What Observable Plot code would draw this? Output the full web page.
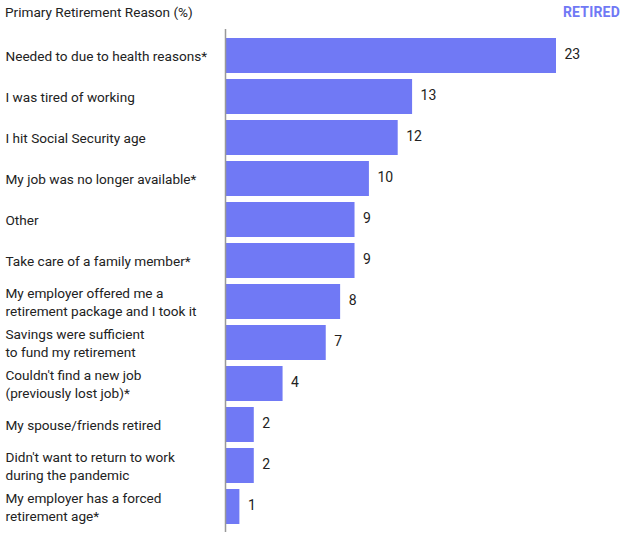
<!DOCTYPE html>
<html>
<head>
<meta charset="utf-8">
<script src="https://cdn.jsdelivr.net/npm/d3@7"></script>
<script src="https://cdn.jsdelivr.net/npm/@observablehq/plot@0.6"></script>
<style>
  html, body { margin: 0; padding: 0; background: #fff; }
  body { width: 623px; height: 538px; overflow: hidden; font-family: Roboto, "Noto Sans", sans-serif; }
  #header { position: relative; height: 28px; }
  #title { position: absolute; left: 5px; top: 4px; font-size: 13.6px; color: #222; }
  #legend { position: absolute; right: 3px; top: 4px; font-size: 14px; font-weight: bold; color: #7079f5; letter-spacing: 0.2px; }
</style>
</head>
<body>
<div id="header"><div id="title">Primary Retirement Reason (%)</div><div id="legend">RETIRED</div></div>
<div id="chart"></div>
<script>
const reasons = [
  "Needed to due to health reasons*",
  "I was tired of working",
  "I hit Social Security age",
  "My job was no longer available*",
  "Other",
  "Take care of a family member*",
  "My employer offered me a\nretirement package and I took it",
  "Savings were sufficient\nto fund my retirement",
  "Couldn't find a new job\n(previously lost job)*",
  "My spouse/friends retired",
  "Didn't want to return to work\nduring the pandemic",
  "My employer has a forced\nretirement age*"
];
const values = [23, 13, 12, 10, 9, 9, 8, 7, 4, 2, 2, 1];
const seriesName = "RETIRED";
const barColor = "#7079f5";

const data = reasons.map((r, i) => ({reason: r, value: values[i]}));

const chart = Plot.plot({
  width: 623,
  height: 510,
  marginLeft: 225,
  marginRight: 67,
  marginTop: 1,
  marginBottom: 6,
  style: {fontFamily: "Roboto, 'Noto Sans', sans-serif", fontSize: "14px", color: "#222"},
  x: {domain: [0, 23], axis: null},
  y: {domain: reasons, paddingInner: 0.15, paddingOuter: 0.17, axis: null},
  marks: [
    Plot.barX(data, {x: "value", y: "reason", fill: barColor}),
    Plot.ruleX([0], {stroke: "#999", strokeWidth: 1.5}),
    Plot.text(data, {x: 0, y: "reason", text: "reason", textAnchor: "start", dx: -220, dy: -1, lineHeight: 1.35, fill: "#222", fontSize: 13.6}),
    Plot.text(data, {x: "value", y: "reason", text: d => String(d.value), textAnchor: "start", dx: 8, dy: -1, fill: "#222", fontSize: 14})
  ]
});
document.getElementById("chart").appendChild(chart);
</script>
</body>
</html>
